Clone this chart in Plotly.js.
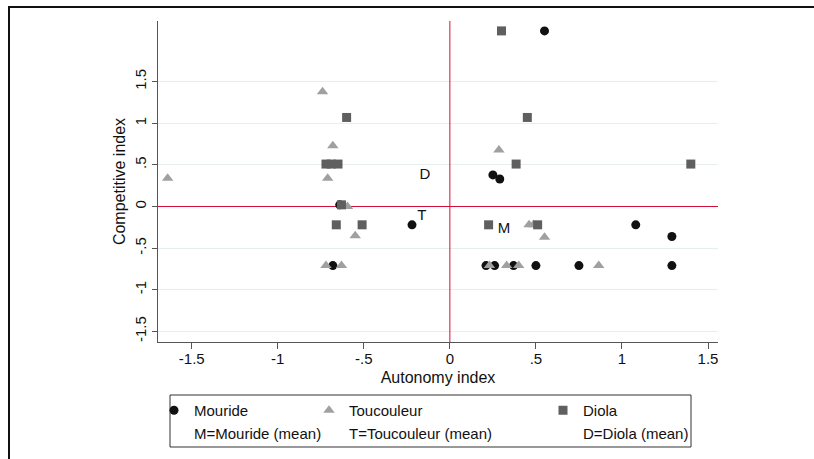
<!DOCTYPE html>
<html>
<head>
<meta charset="utf-8">
<script src="https://cdn.plot.ly/plotly-3.0.1.min.js"></script>
<style>
  html, body { margin: 0; padding: 0; background: #fff; }
  #wrap { position: relative; width: 814px; height: 459px; overflow: hidden; }
  #chart { position: absolute; left: 0; top: 0; width: 814px; height: 459px; }
  #frame { position: absolute; left: 8px; top: 6px; width: 900px; height: 500px;
           border-top: 2px solid #111; border-left: 2px solid #111; pointer-events: none; }
</style>
</head>
<body>
<div id="wrap">
  <div id="chart"></div>
  <div id="frame"></div>
</div>
<script>
// Mouride (circles)
const mourideX = [0.55, 0.25, 0.29, -0.64, -0.22, 1.08, 1.29, -0.68, 0.21, 0.26, 0.37, 0.50, 0.75, 1.29];
const mourideY = [2.11, 0.38, 0.33, 0.02, -0.22, -0.22, -0.36, -0.71, -0.71, -0.71, -0.71, -0.71, -0.71, -0.71];
// Toucouleur (triangles)
const toucX = [-1.64, -0.74, -0.68, -0.71, -0.595, -0.55, -0.72, -0.63, 0.285, 0.46, 0.485, 0.55, 0.23, 0.33, 0.40, 0.865];
const toucY = [0.34, 1.38, 0.73, 0.34, 0.0, -0.35, -0.71, -0.71, 0.68, -0.22, -0.22, -0.37, -0.71, -0.71, -0.71, -0.71];
// Diola (squares)
const diolaX = [0.30, -0.60, 0.45, -0.72, -0.69, -0.65, 0.385, 1.40, -0.63, -0.66, -0.51, 0.225, 0.51];
const diolaY = [2.11, 1.07, 1.07, 0.51, 0.51, 0.51, 0.51, 0.51, 0.02, -0.22, -0.22, -0.22, -0.22];
// Group means (labels)
const meanLabels = ["M", "T", "D"];
const meanX = [0.315, -0.163, -0.145];
const meanY = [-0.27, -0.12, 0.37];
// Legend texts
const groupNames = ["Mouride", "Toucouleur", "Diola"];
const meanNames = ["M=Mouride (mean)", "T=Toucouleur (mean)", "D=Diola (mean)"];
// Axis ticks
const tickVals = [-1.5, -1, -0.5, 0, 0.5, 1, 1.5];
const tickText = ["-1.5", "-1", "-.5", "0", ".5", "1", "1.5"];

const FONT = "Liberation Sans, Arial, sans-serif";
const colors = ["#111111", "#a0a0a0", "#5f5f5f"];
const symbols = ["circle", "triangle-up", "square"];
const sizes = [9, 10, 9];
const xs = [mourideX, toucX, diolaX];
const ys = [mourideY, toucY, diolaY];
const legendIds = ["legend", "legend2", "legend3"];
const RED = "#d0103a";
const xRange = [-1.696, 1.558];
const yRange = [-1.628, 2.229];

const traces = [];
for (let i = 0; i < 3; i++) {
  traces.push({
    type: "scatter", mode: "markers", x: xs[i], y: ys[i], name: groupNames[i],
    legend: legendIds[i], legendrank: 1,
    marker: { symbol: symbols[i], color: colors[i], size: sizes[i], line: { width: 0 } },
    hoverinfo: "skip"
  });
}
for (let i = 0; i < 3; i++) {
  traces.push({
    type: "scatter", mode: "markers", x: [null], y: [null], name: meanNames[i],
    legend: legendIds[i], legendrank: 2,
    marker: { symbol: "circle", color: "rgba(0,0,0,0)", size: 1, line: { width: 0 } },
    hoverinfo: "skip"
  });
}
traces.push({
  type: "scatter", mode: "text", x: meanX, y: meanY, text: meanLabels,
  textposition: "middle center", textfont: { family: FONT, size: 15, color: "#111" },
  showlegend: false, hoverinfo: "skip"
});

// plot area in px: left 158, right 718, top 21, bottom 342
const L = 158, R = 718, T = 21, B = 342, W = 814, H = 459;
const px = v => (v - L) / (R - L);
const py = v => (B - v) / (B - T);

const legBase = {
  orientation: "v", bgcolor: "rgba(0,0,0,0)", borderwidth: 0,
  font: { family: FONT, size: 15, color: "#111" },
  xanchor: "left", yanchor: "top", tracegroupgap: 0, itemclick: false, itemdoubleclick: false
};

const layout = {
  width: W, height: H,
  margin: { l: L, r: W - R, t: T, b: H - B, pad: 0, autoexpand: false },
  paper_bgcolor: "#fff", plot_bgcolor: "#fff",
  font: { family: FONT, size: 15, color: "#111" },
  showlegend: true,
  legend: Object.assign({}, legBase, { x: px(154), y: py(394) }),
  legend2: Object.assign({}, legBase, { x: px(309), y: py(394) }),
  legend3: Object.assign({}, legBase, { x: px(543), y: py(394) }),
  xaxis: {
    range: xRange, tickvals: tickVals, ticktext: tickText,
    showgrid: false, zeroline: false,
    showline: true, linecolor: "#555", linewidth: 1,
    ticks: "outside", ticklen: 6, tickcolor: "#555", tickwidth: 1,
    ticklabelstandoff: -3,
    tickfont: { family: FONT, size: 15, color: "#111" },
    title: { text: "Autonomy index", font: { family: FONT, size: 16, color: "#111" }, standoff: 5 }
  },
  yaxis: {
    range: yRange, tickvals: tickVals, ticktext: tickText, tickangle: -90,
    showgrid: true, gridcolor: "#e6eeee", gridwidth: 1,
    zeroline: false,
    showline: true, linecolor: "#555", linewidth: 1,
    ticks: "outside", ticklen: 5, tickcolor: "#555", tickwidth: 1,
    tickfont: { family: FONT, size: 15, color: "#111" },
    title: { text: "Competitive index", font: { family: FONT, size: 16, color: "#111" }, standoff: 2 }
  },
  shapes: [
    { type: "line", xref: "x", yref: "y", x0: 0, x1: 0, y0: yRange[0], y1: yRange[1],
      line: { color: RED, width: 1 }, layer: "between" },
    { type: "line", xref: "x", yref: "y", x0: xRange[0], x1: xRange[1], y0: 0, y1: 0,
      line: { color: RED, width: 1 }, layer: "between" },
    { type: "rect", xref: "paper", yref: "paper",
      x0: px(170), x1: px(691), y0: py(447), y1: py(395),
      line: { color: "#333", width: 1 }, fillcolor: "rgba(0,0,0,0)", layer: "below" }
  ]
};

Plotly.newPlot("chart", traces, layout, { staticPlot: true, displayModeBar: false });
</script>
</body>
</html>
